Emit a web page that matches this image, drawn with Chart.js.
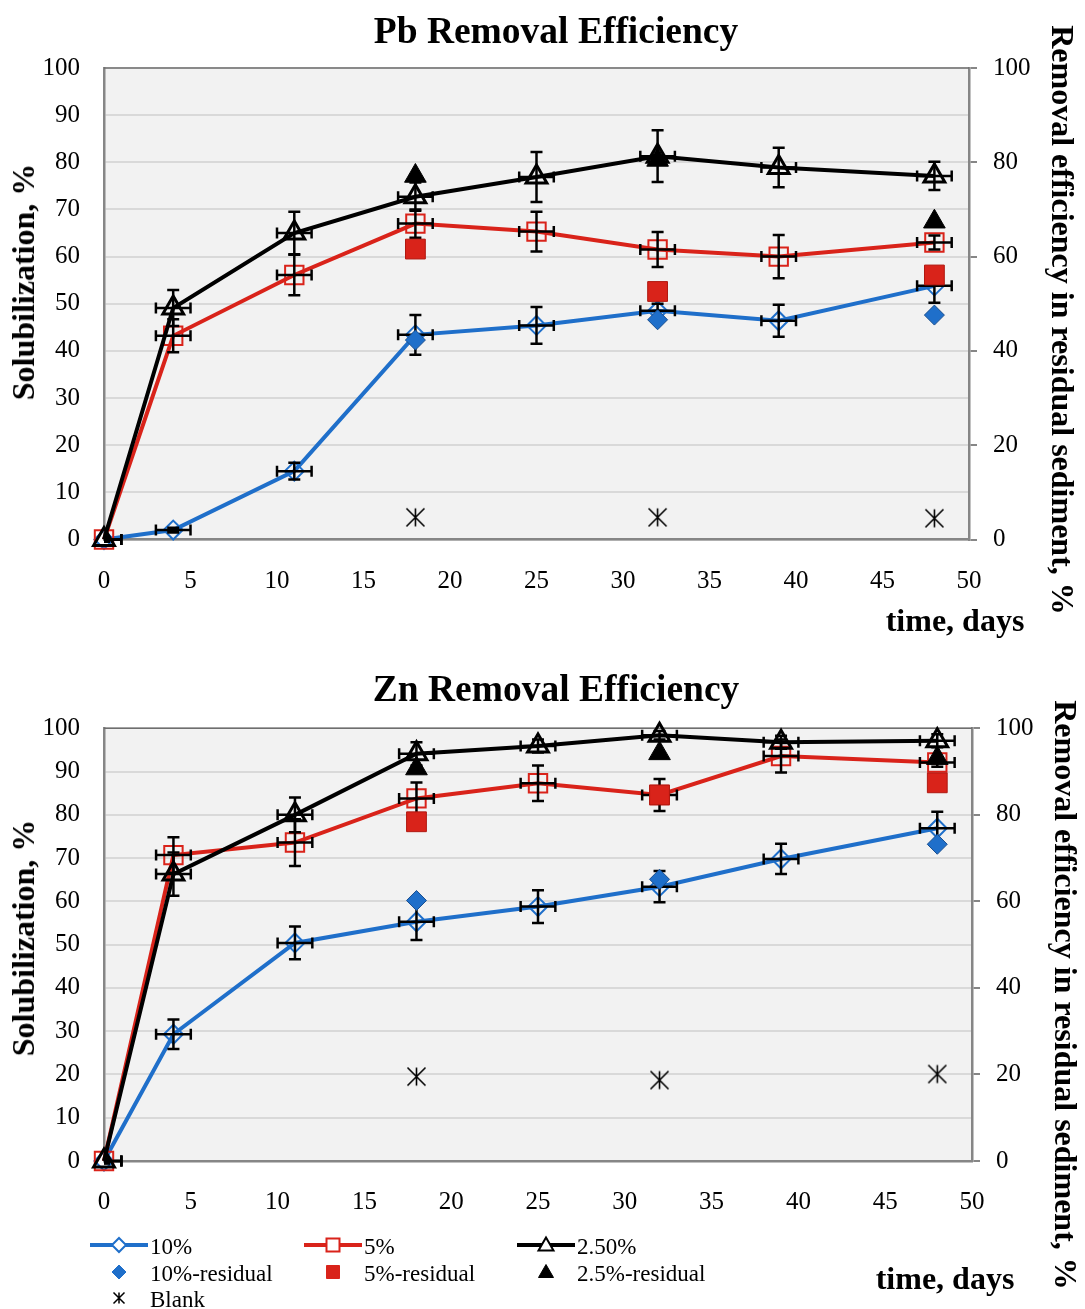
<!DOCTYPE html>
<html>
<head>
<meta charset="utf-8">
<script src="https://cdn.jsdelivr.net/npm/chart.js@4.4.1/dist/chart.umd.min.js"></script>
<style>
  body { margin: 0; background: #fff; }
  #wrap { position: relative; width: 1085px; height: 1309px; font-family: 'Liberation Serif', 'Times New Roman', serif; }
  .box { position: absolute; left: 0; width: 1085px; }
  .txt { position: absolute; white-space: nowrap; font-weight: bold; font-size: 32px; color: #000; line-height: 1; }
  .ttl { position: absolute; white-space: nowrap; font-weight: bold; font-size: 37.5px; color: #000; line-height: 1; transform: translate(-50%, -50%); }
  .leg { position: absolute; font-size: 23px; line-height: 1; white-space: nowrap; }
  .leg canvas { position: absolute; left: 0; top: 0; }
  .leg span { position: absolute; top: 2px; }
</style>
</head>
<body>
<div id="wrap">
  <div class="box" style="top:0;height:650px"><canvas id="pbChart"></canvas></div>
  <div class="box" style="top:650px;height:659px"><canvas id="znChart"></canvas></div>

  <div class="ttl" style="left:556px;top:31px">Pb Removal Efficiency</div>
  <div class="txt" style="left:23px;top:282px;transform:translate(-50%,-50%) rotate(-90deg)">Solubilization, %</div>
  <div class="txt" style="left:1063px;top:320px;transform:translate(-50%,-50%) rotate(90deg)">Removal efficiency in residual sediment, %</div>
  <div class="txt" style="left:955px;top:620px;transform:translate(-50%,-50%)">time, days</div>

  <div class="ttl" style="left:556px;top:689px">Zn Removal Efficiency</div>
  <div class="txt" style="left:23px;top:938px;transform:translate(-50%,-50%) rotate(-90deg)">Solubilization, %</div>
  <div class="txt" style="left:1066px;top:995px;transform:translate(-50%,-50%) rotate(90deg)">Removal efficiency in residual sediment, %</div>
  <div class="txt" style="left:945px;top:1278px;transform:translate(-50%,-50%)">time, days</div>

  <div id="legend"></div>
</div>

<script>
// 时间轴 (天)
const days = [0, 4, 11, 18, 25, 32, 39, 48];
const residualDays = [18, 32, 48];
const dayErr = [1, 1, 1, 1, 1, 1, 1, 1];

// 刻度
const dayTicks = [0, 5, 10, 15, 20, 25, 30, 35, 40, 45, 50];
const leftTicks = [0, 10, 20, 30, 40, 50, 60, 70, 80, 90, 100];
const rightTicks = [0, 20, 40, 60, 80, 100];

// Pb 数据
const pb10 = [0, 2.0, 14.5, 43.4, 45.4, 48.5, 46.4, 53.8];
const pb5 = [0, 43.2, 56.1, 67.0, 65.3, 61.5, 60.0, 63.0];
const pb25 = [0, 49.1, 65.0, 72.7, 76.9, 81.3, 78.9, 77.1];
const pb10Err = [0.5, 0.5, 1.8, 4.2, 3.9, 1.5, 3.4, 3.6];
const pb5Err = [0.5, 3.5, 4.3, 3.0, 4.2, 3.7, 4.6, 1.5];
const pb25Err = [0.5, 3.8, 4.5, 3.0, 5.3, 5.5, 4.2, 3.0];
const pb10Res = [42.3, 46.6, 47.6];
const pb5Res = [61.6, 52.6, 56.1];
const pb25Res = [77.1, 80.5, 67.4];
const pbBlank = [4.7, 4.7, 4.5];

// Zn 数据
const zn10 = [0, 29.3, 50.4, 55.3, 58.8, 63.4, 69.8, 76.9];
const zn5 = [0, 70.7, 73.6, 83.8, 87.3, 84.6, 93.6, 92.1];
const zn25 = [0, 66.3, 80.0, 94.1, 95.9, 98.4, 96.8, 97.1];
const zn10Err = [0.5, 3.4, 3.8, 4.2, 3.8, 3.6, 3.5, 3.8];
const zn5Err = [0.5, 4.1, 5.4, 3.7, 4.1, 3.7, 3.8, 1.0];
const zn25Err = [0.5, 5.0, 4.0, 2.7, 1.5, 1.0, 1.5, 1.5];
const zn10Res = [60.2, 65.1, 73.2];
const zn5Res = [78.4, 84.6, 87.4];
const zn25Res = [90.7, 94.2, 93.1];
const znBlank = [19.5, 18.7, 20.1];

const BLUE = '#1f6fca';
const RED = '#d9231a';
const BLACK = '#000000';
const SERIF = "'Liberation Serif', 'Times New Roman', serif";

Chart.defaults.font.family = SERIF;
Chart.defaults.color = '#000';

// 星号标记 (Blank): X 加竖线
function makeStar(size, lw) {
    const c = document.createElement('canvas');
    c.width = size; c.height = size;
    const g = c.getContext('2d');
    const m = size / 2, r = size / 2 - 1.5;
    g.strokeStyle = '#000';
    g.lineWidth = lw;
    g.beginPath();
    g.moveTo(m, m - r); g.lineTo(m, m + r);
    g.moveTo(m - r, m - r); g.lineTo(m + r, m + r);
    g.moveTo(m - r, m + r); g.lineTo(m + r, m - r);
    g.stroke();
    return c;
}
const starImg = makeStar(21, 1.6);

// 背景和上边框
const plotFrame = {
    id: 'plotFrame',
    beforeDraw(chart) {
        const { ctx, chartArea: a } = chart;
        ctx.save();
        ctx.fillStyle = '#f2f2f2';
        ctx.fillRect(a.left, a.top, a.right - a.left, a.bottom - a.top);
        ctx.restore();
    },
    beforeDatasetsDraw(chart) {
        const { ctx, chartArea: a } = chart;
        ctx.save();
        ctx.strokeStyle = '#6e6e6e';
        ctx.lineWidth = 1.5;
        ctx.beginPath();
        ctx.moveTo(a.left, a.top);
        ctx.lineTo(a.right, a.top);
        ctx.stroke();
        ctx.restore();
    }
};

// 误差线
const errorBars = {
    id: 'errorBars',
    afterDatasetDraw(chart, args) {
        const ds = chart.data.datasets[args.index];
        if (!ds.errY) return;
        const { ctx, chartArea: a } = chart;
        const xs = chart.scales.x;
        const ys = chart.scales[ds.yAxisID];
        ctx.save();
        ctx.beginPath();
        ctx.rect(a.left, a.top - 20, a.right - a.left, a.bottom - a.top + 40);
        ctx.clip();
        ctx.strokeStyle = '#000';
        ctx.lineWidth = 2.5;
        ds.data.forEach((p, j) => {
            const x = xs.getPixelForValue(p.x);
            const y = ys.getPixelForValue(p.y);
            const y1 = ys.getPixelForValue(p.y + ds.errY[j]);
            const y2 = ys.getPixelForValue(p.y - ds.errY[j]);
            const x1 = xs.getPixelForValue(p.x - ds.errX[j]);
            const x2 = xs.getPixelForValue(p.x + ds.errX[j]);
            ctx.beginPath();
            ctx.moveTo(x, y1); ctx.lineTo(x, y2);
            ctx.moveTo(x - 6, y1); ctx.lineTo(x + 6, y1);
            ctx.moveTo(x - 6, y2); ctx.lineTo(x + 6, y2);
            ctx.moveTo(x1, y); ctx.lineTo(x2, y);
            ctx.moveTo(x1, y - 5.5); ctx.lineTo(x1, y + 5.5);
            ctx.moveTo(x2, y - 5.5); ctx.lineTo(x2, y + 5.5);
            ctx.stroke();
        });
        ctx.restore();
    }
};

function lineSet(label, values, errs, color, style, radius, bw) {
    return {
        label: label,
        data: days.map((d, i) => ({ x: d, y: values[i] })),
        errY: errs,
        errX: dayErr,
        yAxisID: 'y',
        borderColor: color,
        borderWidth: 4,
        tension: 0,
        pointStyle: style,
        pointRadius: radius,
        pointHoverRadius: radius,
        pointBorderWidth: bw,
        pointBorderColor: color,
        pointBackgroundColor: 'rgba(0,0,0,0)',
        clip: false
    };
}

function pointSet(label, values, color, edge, style, radius) {
    return {
        label: label,
        data: residualDays.map((d, i) => ({ x: d, y: values[i] })),
        yAxisID: 'y2',
        showLine: false,
        pointStyle: style,
        pointRadius: radius,
        pointHoverRadius: radius,
        pointBorderWidth: 1,
        pointBorderColor: edge,
        pointBackgroundColor: color,
        clip: false
    };
}

function makeChart(id, series, sizes) {
    const sets = [
        lineSet('10%', series.s10, series.e10, BLUE, 'rectRot', 9.5, 2),
        lineSet('5%', series.s5, series.e5, RED, 'rect', 13, 2),
        lineSet('2.50%', series.s25, series.e25, BLACK, 'triangle', 12, 3),
        pointSet('10%-residual', series.r10, BLUE, '#1a4f8f', 'rectRot', 10),
        pointSet('5%-residual', series.r5, RED, '#b01810', 'rect', 14),
        pointSet('2.5%-residual', series.r25, BLACK, BLACK, 'triangle', 12.5),
        pointSet('Blank', series.blank, BLACK, BLACK, starImg, 11)
    ];
    // 后面的系列画在上层
    sets.forEach((s, i) => { s.order = 100 - i; });

    return new Chart(document.getElementById(id), {
        type: 'line',
        data: { datasets: sets },
        options: {
            responsive: true,
            maintainAspectRatio: false,
            animation: false,
            layout: { padding: { top: sizes.top, left: 0, right: 0, bottom: 0 } },
            plugins: {
                legend: { display: false },
                tooltip: { enabled: false },
                title: { display: false }
            },
            scales: {
                x: {
                    type: 'linear',
                    min: 0, max: 50,
                    afterBuildTicks: s => { s.ticks = dayTicks.map(v => ({ value: v })); },
                    afterFit: s => { s.height = sizes.xHeight; },
                    grid: { color: 'rgba(0,0,0,0)', drawTicks: false },
                    border: { display: true, color: '#868686', width: 2.5 },
                    ticks: { font: { size: 25 }, padding: 26.5, maxRotation: 0 }
                },
                y: {
                    position: 'left',
                    min: 0, max: 100,
                    afterBuildTicks: s => { s.ticks = leftTicks.map(v => ({ value: v })); },
                    afterFit: s => { s.width = 104; },
                    grid: { color: '#d9d9d9', lineWidth: 2, drawTicks: false },
                    border: { display: true, color: '#868686', width: 2.5 },
                    ticks: { font: { size: 25 }, padding: 24 }
                },
                y2: {
                    position: 'right',
                    min: 0, max: 100,
                    afterBuildTicks: s => { s.ticks = rightTicks.map(v => ({ value: v })); },
                    afterFit: s => { s.width = sizes.rightWidth; },
                    grid: { drawOnChartArea: false, drawTicks: true, tickLength: 8, color: '#868686', lineWidth: 2 },
                    border: { display: true, color: '#868686', width: 2.5 },
                    ticks: { font: { size: 25 }, padding: 16 }
                }
            }
        },
        plugins: [plotFrame, errorBars]
    });
}

makeChart('pbChart', {
    s10: pb10, s5: pb5, s25: pb25,
    e10: pb10Err, e5: pb5Err, e25: pb25Err,
    r10: pb10Res, r5: pb5Res, r25: pb25Res, blank: pbBlank
}, { top: 68, xHeight: 110.5, rightWidth: 116 });

makeChart('znChart', {
    s10: zn10, s5: zn5, s25: zn25,
    e10: zn10Err, e5: zn5Err, e25: zn25Err,
    r10: zn10Res, r5: zn5Res, r25: zn25Res, blank: znBlank
}, { top: 78.3, xHeight: 148, rightWidth: 113 });

// 图例
const legendItems = [
    { label: '10%', color: BLUE, style: 'diamond', line: true, x: 90, y: 1245 },
    { label: '5%', color: RED, style: 'square', line: true, x: 304, y: 1245 },
    { label: '2.50%', color: BLACK, style: 'triangle', line: true, x: 517, y: 1245 },
    { label: '10%-residual', color: BLUE, style: 'diamond', line: false, x: 90, y: 1272 },
    { label: '5%-residual', color: RED, style: 'square', line: false, x: 304, y: 1272 },
    { label: '2.5%-residual', color: BLACK, style: 'triangle', line: false, x: 517, y: 1272 },
    { label: 'Blank', color: BLACK, style: 'star', line: false, x: 90, y: 1298 }
];

function drawMarker(g, item, cx, cy) {
    g.save();
    g.strokeStyle = item.color;
    g.fillStyle = item.line ? '#fff' : item.color;
    g.lineWidth = item.line ? 2 : 1;
    g.beginPath();
    if (item.style === 'diamond') {
        g.moveTo(cx, cy - 7); g.lineTo(cx + 7, cy); g.lineTo(cx, cy + 7); g.lineTo(cx - 7, cy); g.closePath();
    } else if (item.style === 'square') {
        g.rect(cx - 6.5, cy - 6.5, 13, 13);
    } else if (item.style === 'triangle') {
        g.moveTo(cx, cy - 7.5); g.lineTo(cx + 7.5, cy + 5.5); g.lineTo(cx - 7.5, cy + 5.5); g.closePath();
    }
    if (item.style === 'star') {
        g.drawImage(makeStar(14, 1.5), cx - 7, cy - 7);
    } else {
        g.fill();
        g.stroke();
    }
    g.restore();
}

const legendBox = document.getElementById('legend');
legendItems.forEach(item => {
    const div = document.createElement('div');
    div.className = 'leg';
    div.style.left = item.x + 'px';
    div.style.top = (item.y - 12) + 'px';
    const c = document.createElement('canvas');
    c.width = 60; c.height = 24;
    const g = c.getContext('2d');
    if (item.line) {
        g.strokeStyle = item.color;
        g.lineWidth = 4;
        g.beginPath();
        g.moveTo(0, 12); g.lineTo(58, 12);
        g.stroke();
    }
    drawMarker(g, item, 29, 12);
    const span = document.createElement('span');
    span.style.left = '60px';
    span.textContent = item.label;
    div.appendChild(c);
    div.appendChild(span);
    legendBox.appendChild(div);
});
</script>
</body>
</html>
